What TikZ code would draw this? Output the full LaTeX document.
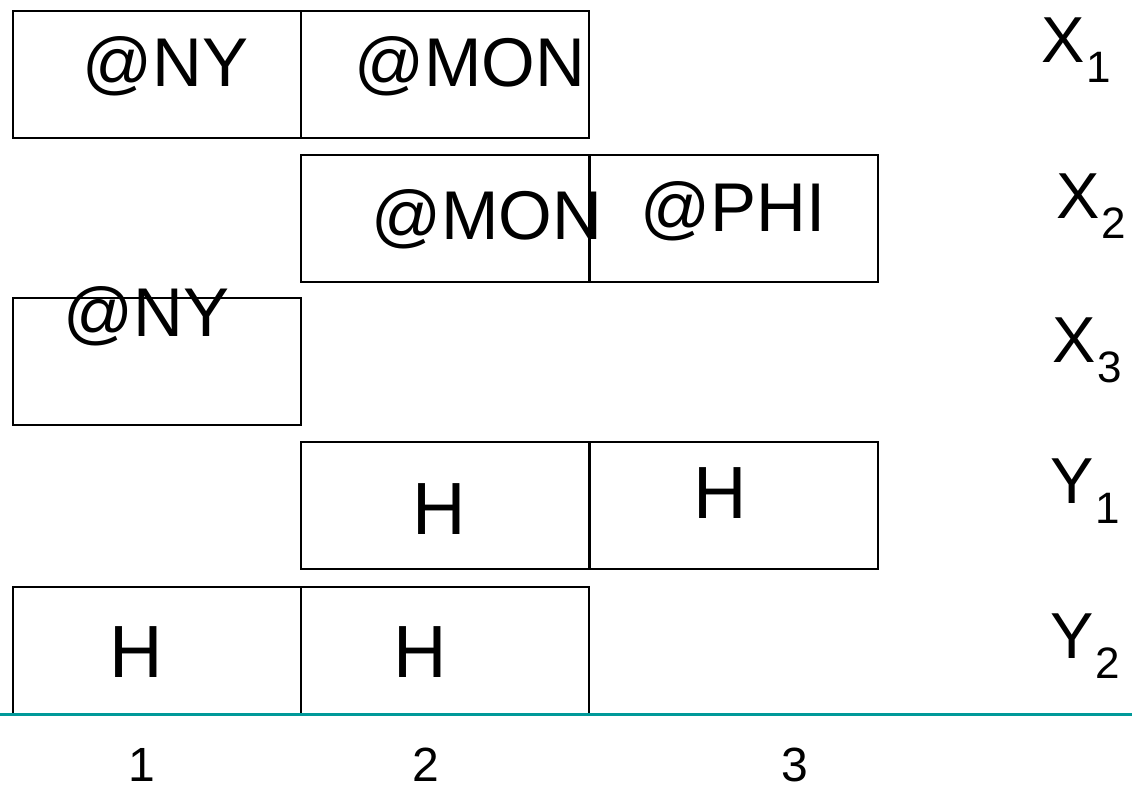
\documentclass[tikz,border=0pt]{standalone}
\usepackage{fontspec}
\setmainfont{Liberation Sans}
\definecolor{tealline}{RGB}{0,153,153}
\begin{document}
\begin{tikzpicture}[x=1pt,y=-1pt,
  cell/.style={draw=black,line width=2pt,anchor=north west,inner sep=0pt,minimum width=288pt,minimum height=127pt},
  txt/.style={anchor=base west,inner sep=0pt,font=\fontsize{69}{69}\selectfont},
  htxt/.style={anchor=base,inner sep=0pt,font=\fontsize{74}{74}\selectfont},
  lbl/.style={anchor=base west,inner sep=0pt,font=\fontsize{65}{65}\selectfont},
  num/.style={anchor=base,inner sep=0pt,text depth=0pt,font=\fontsize{48}{48}\selectfont}]
\useasboundingbox (0,0) rectangle (1132,789);
\newcommand{\sbs}[1]{\hspace{2pt}\raisebox{-20pt}{\fontsize{44}{44}\selectfont #1}}
% row X1
\node[cell] (a1) at (12,10) {};
\node[cell] (a2) at (300,10) {};
% row X2
\node[cell] (b2) at (300,154) {};
\node[cell] (b3) at (589,154) {};
% row X3
\node[cell] (c1) at (12,297) {};
% row Y1
\node[cell] (d2) at (300,441) {};
\node[cell] (d3) at (589,441) {};
% row Y2
\node[cell] (e1) at (12,586) {};
\node[cell] (e2) at (300,586) {};
% teal base line
\coordinate (L) at (0,714);
\coordinate (R) at (1132,714);
\draw[tealline,line width=3pt] (L) -- (R);
% texts
\node[txt] (t1) at (82,87) {@NY};
\node[txt] (t2) at (354,87) {@MON};
\node[txt] (t3) at (371,239) {@MON};
\node[txt] (t4) at (640,231) {@PHI};
\node[txt] (t5) at (63,336) {@NY};
\node[htxt] (t6) at (439,534) {H};
\node[htxt] (t7) at (720,518) {H};
\node[htxt] (t8) at (136,677) {H};
\node[htxt] (t9) at (420,677) {H};
% labels
\node[lbl] (x1) at (1041,63) {X\sbs{1}};
\node[lbl] (x2) at (1056,218) {X\sbs{2}};
\node[lbl] (x3) at (1052,362) {X\sbs{3}};
\node[lbl] (y1) at (1050,503) {Y\sbs{1}};
\node[lbl] (y2) at (1050,658) {Y\sbs{2}};
% column numbers
\node[num] (n1) at (142,781) {1};
\node[num] (n2) at (426,781) {2};
\node[num] (n3) at (795,781) {3};
\end{tikzpicture}
\end{document}
